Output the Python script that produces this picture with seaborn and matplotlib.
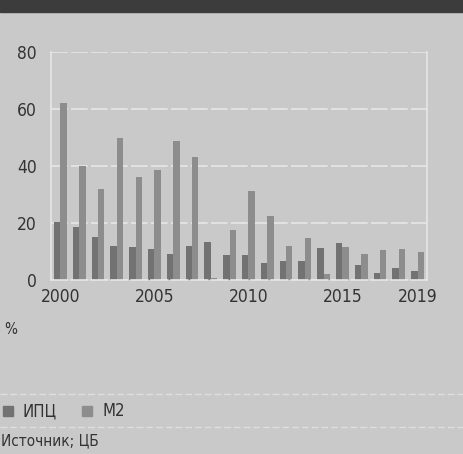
import numpy as np
import pandas as pd
import matplotlib.pyplot as plt
import seaborn as sns
from matplotlib.patches import Rectangle

YEARS = list(range(2000, 2020))
CPI   = [20.2, 18.6, 15.1, 12.0, 11.7, 10.9, 9.0, 11.9, 13.3, 8.8,
         8.8, 6.1, 6.6, 6.5, 11.4, 12.9, 5.4, 2.5, 4.3, 3.0]
M2    = [62.0, 40.0, 32.0, 50.0, 36.0, 38.6, 48.8, 43.0, 0.8, 17.7,
         31.1, 22.3, 12.0, 14.6, 2.2, 11.5, 9.2, 10.5, 11.0, 9.7]
SERIES = ['ИПЦ', 'M2']
COLORS = ['#727272', '#8d8d8d']
TICK_YEARS = [2000, 2005, 2010, 2015, 2019]

BG = '#c9c9c9'
TXT = '#333333'
GRID = '#e6e6e6'

df = pd.DataFrame({'year': YEARS * 2,
                   'value': CPI + M2,
                   'series': [SERIES[0]] * len(YEARS) + [SERIES[1]] * len(YEARS)})

sns.set_style('white')
plt.rcParams['font.family'] = ['DejaVu Sans']
plt.rcParams['font.stretch'] = 'condensed'

W, H = 463, 454
fig = plt.figure(figsize=(W / 100, H / 100), dpi=100, facecolor=BG)
ax = fig.add_axes([51 / W, (H - 280) / H, (427 - 51) / W, (280 - 52) / H])
ax.set_facecolor(BG)

sns.barplot(data=df, x='year', y='value', hue='series', palette=COLORS,
            width=0.68, ax=ax, legend=False, saturation=1, linewidth=0)

ax.set_xlim(-0.5, len(YEARS) - 0.5)
ax.set_ylim(0, 80)
ax.set_yticks([0, 20, 40, 60, 80])
ax.set_xticks([YEARS.index(y) for y in TICK_YEARS])
ax.set_xticklabels([str(y) for y in TICK_YEARS])
ax.set_xticks(np.arange(-0.5, len(YEARS), 1), minor=True)
ax.set_xlabel(''); ax.set_ylabel('')

ax.yaxis.grid(True, color=GRID, lw=1.2, ls=(0, (10, 2)))
ax.set_axisbelow(True)
ax.spines['top'].set_visible(False)
for s in ['left', 'right', 'bottom']:
    ax.spines[s].set_color(GRID); ax.spines[s].set_linewidth(1.2)
ax.spines['bottom'].set_linestyle((0, (10, 2)))

ax.tick_params(axis='y', length=0, pad=10, labelsize=12.5, labelcolor=TXT)
ax.tick_params(axis='x', which='major', length=0, pad=6, labelsize=12.5, labelcolor=TXT)
ax.tick_params(axis='x', which='minor', length=4, width=1, color=GRID, direction='out')

# dark band on top, separators, legend and source
fig.patches.append(Rectangle((0, (H - 12) / H), 1, 12 / H, transform=fig.transFigure,
                             color='#3c3c3c', zorder=0))
fig.text(4 / W, 1 - 330 / H, '%', fontsize=11, color=TXT, va='center')
for yy in [394, 427]:
    fig.add_artist(plt.Line2D([0, 1], [1 - yy / H] * 2, transform=fig.transFigure,
                              color='#dedede', lw=1, ls=(0, (5, 2))))
ly = 1 - 411 / H
for x0, lab, c in [(3, SERIES[0], COLORS[0]), (82, SERIES[1], COLORS[1])]:
    fig.patches.append(Rectangle((x0 / W, ly - 5 / H), 10 / W, 10 / H,
                                 transform=fig.transFigure, color=c))
    fig.text((x0 + 20) / W, ly, lab, fontsize=12, color=TXT, va='center')
fig.text(1 / W, 1 - 441 / H, 'Источник; ЦБ', fontsize=11, color=TXT, va='center')

fig.savefig('out.png', dpi=100, facecolor=BG)
